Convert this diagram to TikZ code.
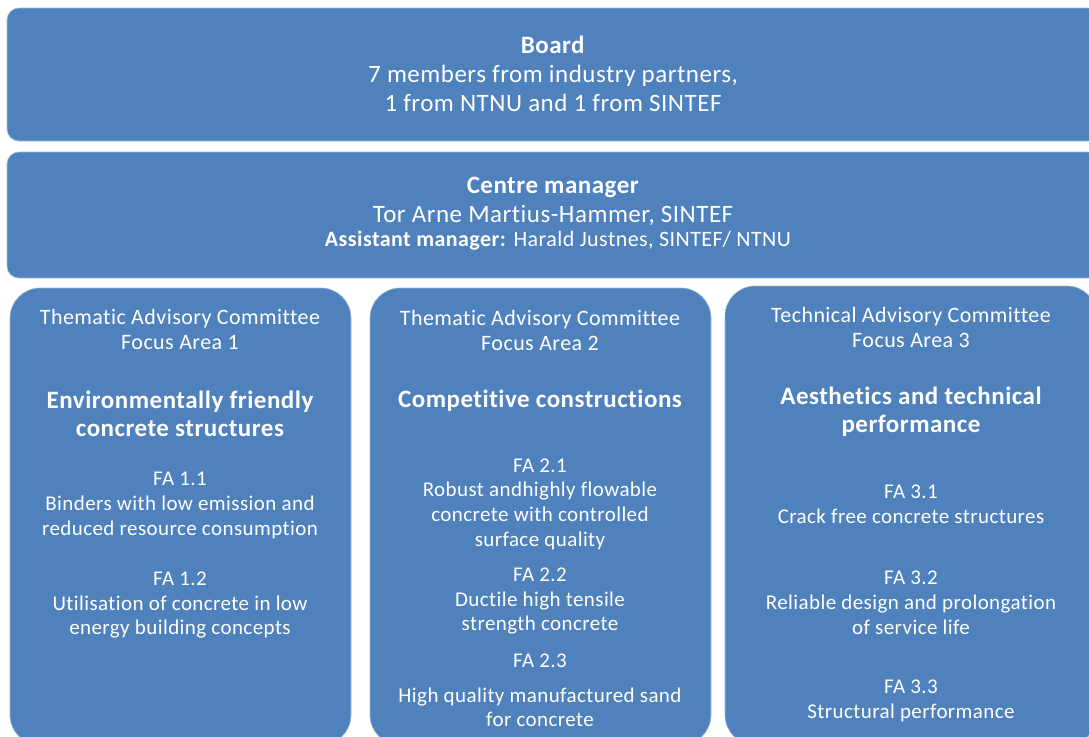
\documentclass[tikz,border=0pt]{standalone}
\usepackage{fontspec}
\setmainfont{Carlito}[LetterSpace=2,Ligatures=NoCommon]
\definecolor{orgblue}{RGB}{79,129,189}
\tikzset{
  panel/.style={fill=orgblue, draw=orgblue!55!white, line width=0.6pt},
  txt/.style={text=white, align=center, inner sep=0pt},
}
\newcommand{\orgbig}{\fontsize{25}{29}\selectfont}
\newcommand{\orgsmall}{\fontsize{22}{24}\selectfont}
\newcommand{\orghead}{\fontsize{22}{25}\selectfont}
\newcommand{\orgtitle}{\fontsize{25}{28}\selectfont\bfseries}
\newcommand{\orgbody}{\fontsize{21}{24.75}\selectfont}

\begin{document}
\begin{tikzpicture}[x=1pt,y=-1pt]
  \useasboundingbox (0,0) rectangle (1089,736);
  \clip (0,0) rectangle (1089,736);

  % Board and centre management
  \filldraw [panel, rounded corners=12] (7,8) rectangle (1100,141);
  \filldraw [panel, rounded corners=12] (7,152) rectangle (1100,278);

  % The three focus areas
  \filldraw [panel, rounded corners=30] (10,288) rectangle (351,745);
  \filldraw [panel, rounded corners=30] (370,288) rectangle (711,745);
  \filldraw [panel, rounded corners=30] (725,286) rectangle (1097,745);

  % Board
  \node [txt, font=\orgbig] (board) at (553,74)
    {\textbf{Board}\\7 members from industry partners,\\1 from NTNU and 1 from SINTEF};

  % Centre manager
  \node [txt, font=\orgbig] (manager) at (553,201)
    {\textbf{Centre manager}\\Tor Arne Martius-Hammer, SINTEF};
  \node [txt, font=\orgsmall] (assistant) at (558,241)
    {\textbf{Assistant manager:} Harald Justnes, SINTEF/ NTNU};

  % Focus area 1
  \node [txt, font=\orghead] (head1) at (180,329.5)
    {Thematic Advisory Committee\\Focus Area 1};
  \node [txt, font=\orgtitle] (title1) at (180,414)
    {Environmentally friendly\\concrete structures};
  \node [txt, font=\orgbody] (fa11) at (180,505.5)
    {FA 1.1\\Binders with low emission and\\reduced resource consumption};
  \node [txt, font=\orgbody] (fa12) at (180,605)
    {FA 1.2\\Utilisation of concrete in low\\energy building concepts};

  % Focus area 2
  \node [txt, font=\orghead] (head2) at (540,330.5)
    {Thematic Advisory Committee\\Focus Area 2};
  \node [txt, font=\orgtitle] (title2) at (540,401)
    {Competitive constructions};
  \node [txt, font=\orgbody] (fa21) at (540,504)
    {FA 2.1\\Robust andhighly flowable\\concrete with controlled\\surface quality};
  \node [txt, font=\orgbody] (fa22) at (540,601)
    {FA 2.2\\Ductile high tensile\\strength concrete};
  \node [txt, font=\orgbody] (fa23) at (540,690.5)
    {FA 2.3\\[10pt]High quality manufactured sand\\for concrete};

  % Focus area 3
  \node [txt, font=\orghead] (head3) at (911,327.5)
    {Technical Advisory Committee\\Focus Area 3};
  \node [txt, font=\orgtitle] (title3) at (911,411.5)
    {Aesthetics and technical\\performance};
  \node [txt, font=\orgbody] (fa31) at (911,504.5)
    {FA 3.1\\Crack free concrete structures};
  \node [txt, font=\orgbody] (fa32) at (911,603)
    {FA 3.2\\Reliable design and prolongation\\of service life};
  \node [txt, font=\orgbody] (fa33) at (911,700.5)
    {FA 3.3\\Structural performance};
\end{tikzpicture}
\end{document}
